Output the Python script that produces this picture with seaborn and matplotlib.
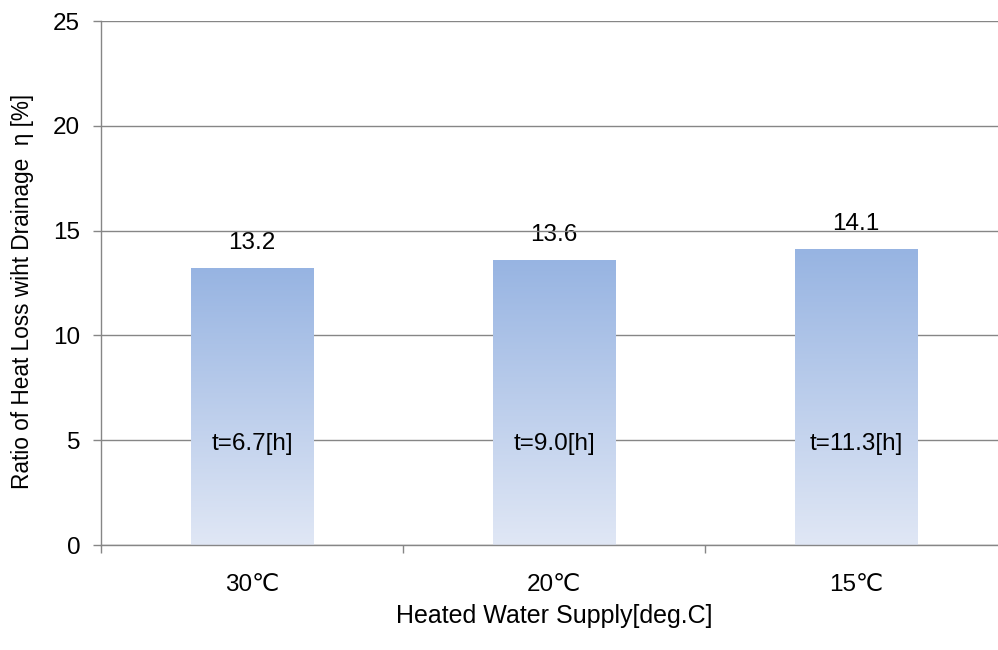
import matplotlib
matplotlib.use("Agg")
import matplotlib.pyplot as plt
import seaborn as sns
import numpy as np
import pandas as pd
from matplotlib.colors import LinearSegmentedColormap

categories = ["30℃", "20℃", "15℃"]
values = [13.2, 13.6, 14.1]
time_labels = ["t=6.7[h]", "t=9.0[h]", "t=11.3[h]"]
y_ticks = [0, 5, 10, 15, 20, 25]

sns.set_theme(style="white")
plt.rcParams['font.family'] = ['Liberation Sans', 'DejaVu Sans']

df = pd.DataFrame({"cat": categories, "val": values})

fig = plt.figure(figsize=(9.98, 6.5), dpi=100)
ax = fig.add_axes([101/998, 105/650, 906/998, 524/650])

sns.barplot(data=df, x="cat", y="val", ax=ax, width=0.404, color="#9BB5E1",
            saturation=1, zorder=3)

cmap = LinearSegmentedColormap.from_list("g", ["#E0E7F5", "#97B4E2"])
grad = np.linspace(0, 1, 256).reshape(-1, 1)
for p in list(ax.patches):
    x0, y0 = p.get_x(), p.get_y()
    w, h = p.get_width(), p.get_height()
    im = ax.imshow(grad, cmap=cmap, origin="lower", aspect="auto",
                   extent=[x0, x0 + w, y0, y0 + h], zorder=3)
    im.set_clip_path(p)
    p.set_facecolor("none")
    p.set_edgecolor("none")

ax.set_xlim(-0.5, 2.5)
ax.set_ylim(0, 25)
ax.set_yticks(y_ticks)
ax.set_axisbelow(True)
ax.yaxis.grid(True, color="#868686", linewidth=1.0)

for s in ["top", "right"]:
    ax.spines[s].set_visible(False)
for s in ["left", "bottom"]:
    ax.spines[s].set_color("#868686")
    ax.spines[s].set_linewidth(1.0)
    ax.spines[s].set_zorder(5)

ax.tick_params(axis="y", which="major", left=True, length=6, width=1,
               color="#868686", pad=9, labelsize=17.5, labelcolor="black")
ax.tick_params(axis="x", which="major", bottom=False, length=0, pad=21,
               labelsize=17.5, labelcolor="black")
ax.set_xticks([-0.5, 0.5, 1.5], minor=True)
ax.tick_params(axis="x", which="minor", bottom=True, length=6, width=1,
               color="#868686")

for i, (v, t) in enumerate(zip(values, time_labels)):
    ax.text(i, v + 1.2, f"{v:.1f}", ha="center", va="center", fontsize=17.5,
            color="black", zorder=0.4)
    ax.text(i, 4.8, t, ha="center", va="center", fontsize=17.5,
            color="black", zorder=6)

ax.set_xlabel("Heated Water Supply[deg.C]", fontsize=18, color="black",
              labelpad=6)
ax.set_ylabel("Ratio of Heat Loss wiht Drainage  η [%]", fontsize=16.3,
              color="black", labelpad=14)
ax.yaxis.label.set_y(0.483)

fig.savefig("out.png", dpi=100)
